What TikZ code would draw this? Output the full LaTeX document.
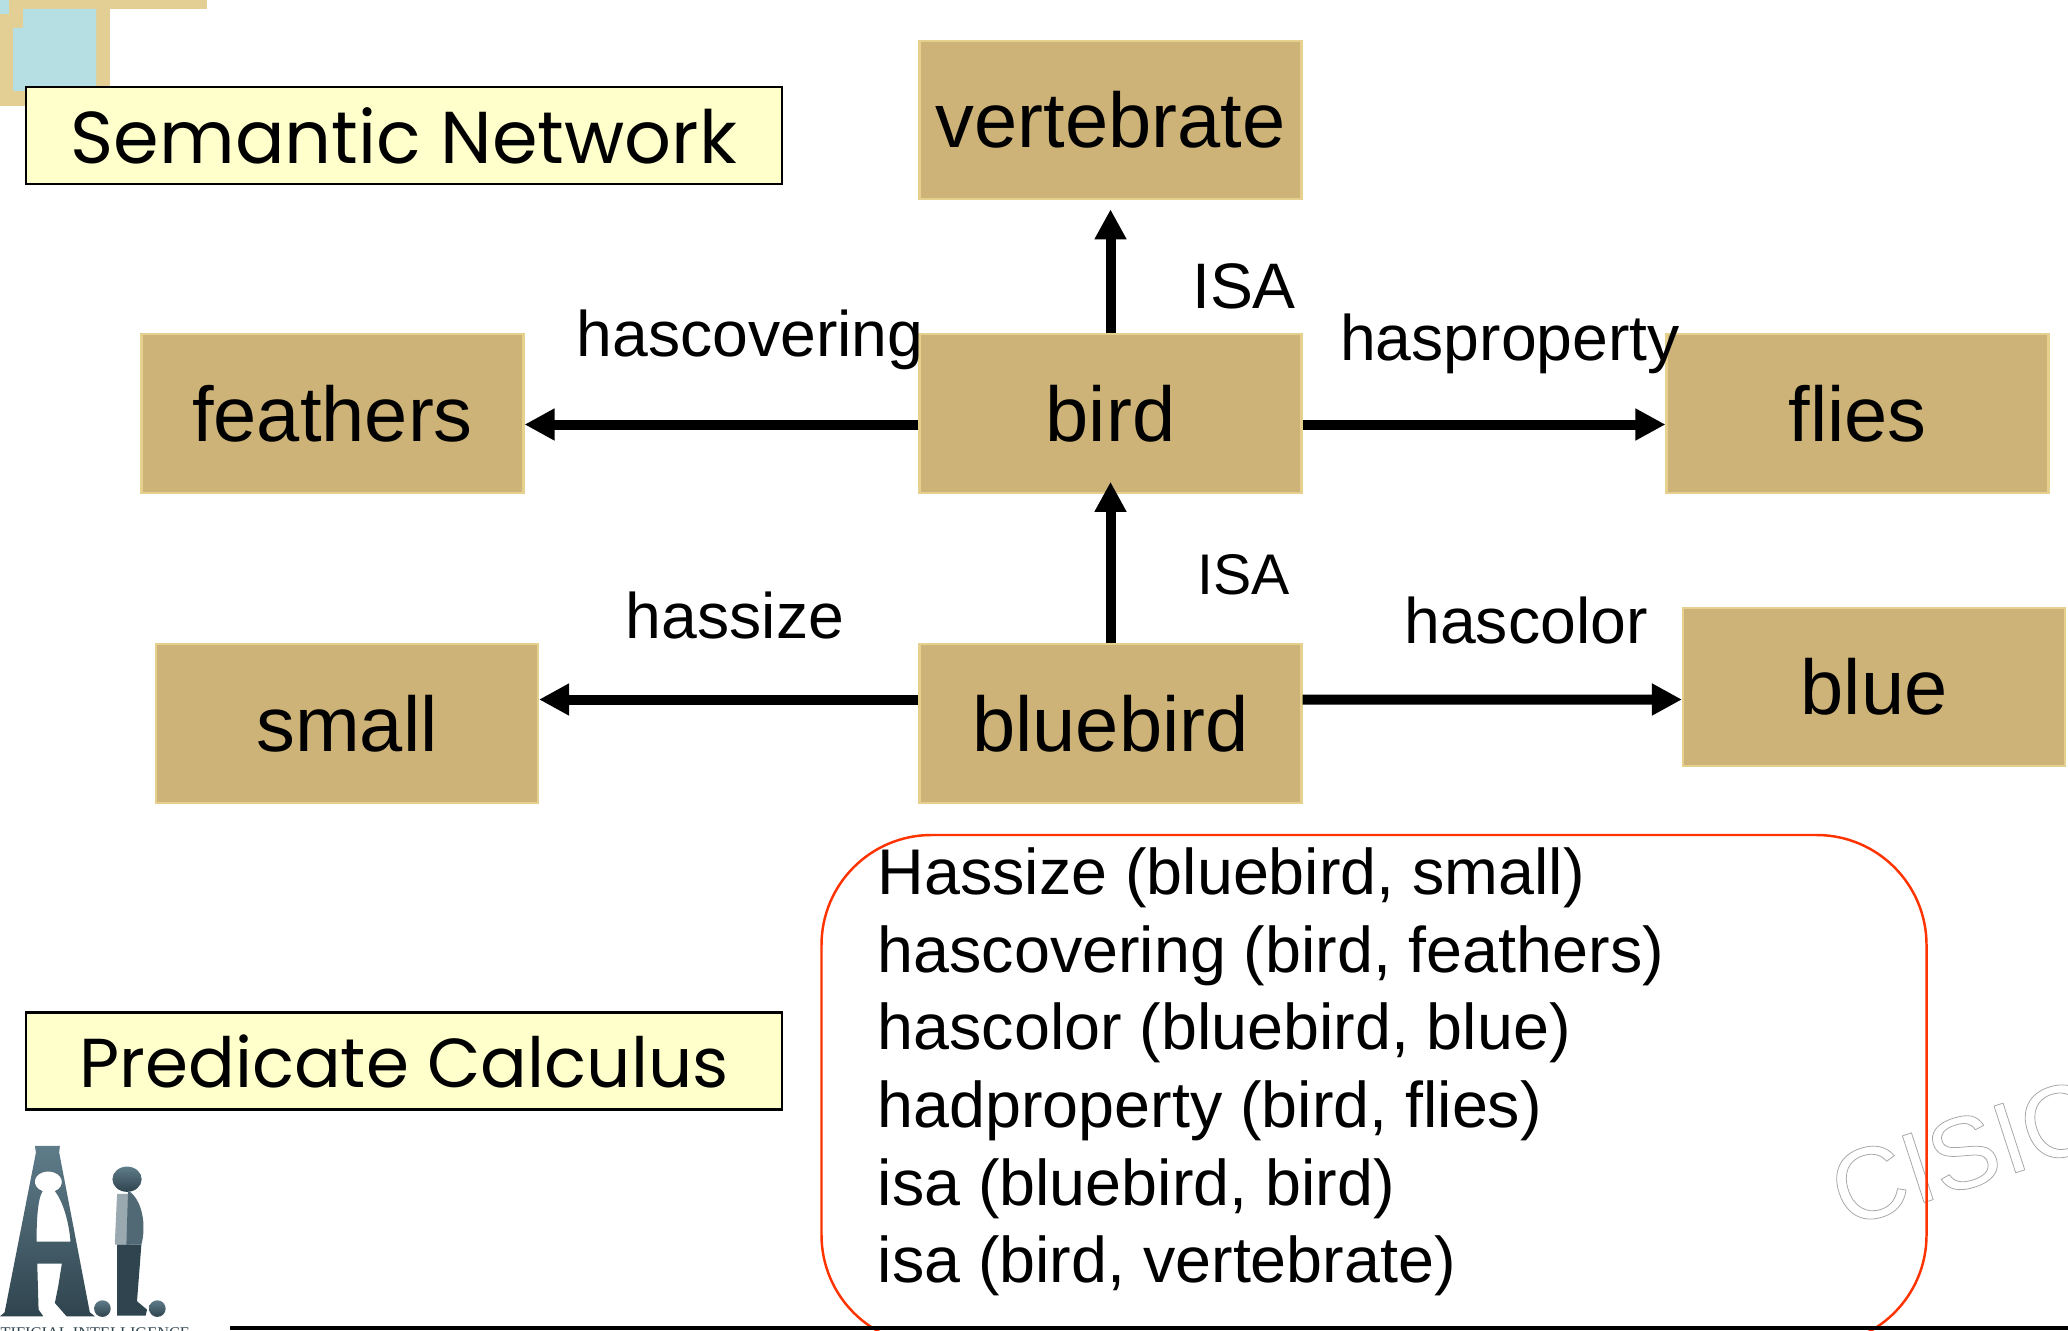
\documentclass[tikz,border=0pt]{standalone}
\usepackage{fontspec}
\usepackage{xcolor}
\usetikzlibrary{arrows.meta,positioning,calc}
\setmainfont{Liberation Sans}
\newfontfamily\titlefont{Poppins}
\definecolor{boxtan}{HTML}{CDB377}
\definecolor{boxedge}{HTML}{E6D08E}
\definecolor{titleyellow}{HTML}{FFFFCC}
\definecolor{cornerblue}{HTML}{B5DFE3}
\definecolor{cornertan}{HTML}{E3CF93}
\definecolor{listred}{HTML}{FF3300}
\definecolor{logoslate}{HTML}{5F7C8A}
\definecolor{logodark}{HTML}{2F444E}
\definecolor{logolight}{HTML}{9AA9B0}
\newcommand{\outlinetext}[1]{\special{pdf: code 1 Tr 0.22 w}#1\special{pdf: code 0 Tr}}
\begin{document}
\begin{tikzpicture}[
  every node/.style={inner sep=0pt},
  concept/.style={draw=boxedge,fill=boxtan,minimum width=3.82cm,minimum height=1.585cm,line width=0.6pt,font=\fontsize{22.1}{24}\selectfont},
  titlebox/.style={draw=black,fill=titleyellow,minimum width=7.56cm,minimum height=0.97cm,line width=0.6pt,font=\titlefont\fontsize{20.9}{22}\selectfont},
  relation/.style={font=\fontsize{18.3}{20}\selectfont},
  flow/.style={-{Triangle[length=0.30cm,width=0.30cm]},draw=black,line width=0.10cm},
  logoshade/.style={top color=logoslate,bottom color=logodark,draw=none}
]
  \clip (0,0) rectangle (20.68,13.30);
  % corner ornament
  \fill[cornertan] (0.09,13.30) rectangle (2.07,13.21);
  \fill[cornertan] (0,13.16) rectangle (1.10,12.24);
  \fill[cornertan] (0.09,13.30) rectangle (1.10,13.16);
  \fill[cornerblue] (0.13,13.02) -| (0.23,13.21) -| (0.96,12.39) -| cycle;
  \fill[cornerblue] (0,13.30) rectangle (0.09,13.16);
  \node[titlebox] (semantic) at (4.04,11.945) {Semantic Network};
  \node[titlebox,font=\titlefont\fontsize{19.7}{22}\selectfont] (predicate) at (4.04,2.69) {Predicate Calculus};
  % network
  \node[concept] (vertebrate) at (11.105,12.10) {vertebrate};
  \node[concept] (bird) at (11.105,9.165) {bird};
  \node[concept] (feathers) at (3.325,9.165) {feathers};
  \node[concept] (flies) at (18.575,9.165) {flies};
  \node[concept] (bluebird) at (11.105,6.065) {bluebird};
  \node[concept] (small) at (3.47,6.065) {small};
  \node[concept] (blue) at (18.74,6.43) {blue};
  \draw[flow,shorten >=0.09cm] (bird.north) -- (vertebrate.south);
  \draw[flow,shorten >=-0.12cm] (bluebird.north) -- (bird.south);
  \draw[flow] ([yshift=-0.11cm]bird.west) -- ([yshift=-0.11cm]feathers.east);
  \draw[flow] ([yshift=-0.11cm]bird.east) -- ([yshift=-0.11cm]flies.west);
  \draw[flow] ([yshift=0.24cm]bluebird.west) -- ([yshift=0.24cm]small.east);
  \draw[flow] ([yshift=0.24cm]bluebird.east) -- ([yshift=-0.125cm]blue.west);
  \node[relation] (isatop) at (12.44,10.44) {ISA};
  \node[relation,font=\fontsize{16.3}{18}\selectfont] (isalow) at (12.44,7.55) {ISA};
  \node[relation] (hascovering) at (7.50,9.90) {hascovering};
  \node[relation] (hasproperty) at (15.10,9.86) {hasproperty};
  \node[relation] (hassize) at (7.35,7.14) {hassize};
  \node[relation] (hascolor) at (15.26,7.09) {hascolor};
  % watermark
  \node[rotate=18,anchor=south west,text=gray!70,font=\fontsize{29}{30}\selectfont] (cisic) at (18.45,1.00) {\outlinetext{CISIC}};
  % predicates
  \node[draw=listred,line width=0.7pt,rounded corners=1.10cm,minimum width=11.05cm,minimum height=5.10cm] (listbox) at (13.74,2.40) {};
  \node[anchor=north west,align=left,font=\fontsize{18.38}{22.1}\selectfont] (predicates) at (8.77,4.83) {Hassize (bluebird, small)\\hascovering (bird, feathers)\\hascolor (bluebird, blue)\\hadproperty (bird, flies)\\isa (bluebird, bird)\\isa (bird, vertebrate)};
  % logo
  \begin{scope}[shift={(0,2.10)},x=0.00333cm,y=-0.00333cm]
    \path[logoshade,even odd rule] (105,78) -- (180,78) -- (178,98) -- (270,578) -- (285,590) -- (200,590) -- (165,550) -- (175,500) -- (186,432) -- (112,432) -- (116,570) -- (130,590) -- (0,590) -- (14,578) -- (108,98) -- cycle
      (145,155) .. controls (100,155) and (90,200) .. (128,214) .. controls (112,240) and (110,310) .. (110,366) -- (212,366) .. controls (208,310) and (190,245) .. (165,214) .. controls (200,200) and (190,155) .. (145,155) -- cycle;
    \path[logoshade] (382,178) ellipse (44 and 38);
    \fill[logolight] (352,222) -- (388,222) -- (388,375) -- (345,375) -- cycle;
    \fill[logoslate!85!black] (385,212) .. controls (430,240) and (440,320) .. (425,375) -- (380,375) -- cycle;
    \fill[logodark] (352,375) -- (425,375) -- (412,545) -- (442,570) -- (438,588) -- (352,588) -- cycle;
    \path[logoshade] (308,567) circle (25);
    \path[logoshade] (473,567) circle (25);
  \end{scope}
  \node[anchor=north west,text=logodark,font=\fontsize{4.65}{5}\selectfont] (logotext) at (0,0.03) {\fontspec{Liberation Serif}TIFICIAL INTELLIGENCE};
  \coordinate (rulestart) at (2.30,0.02);
  \coordinate (ruleend) at (20.68,0.02);
  \draw[line width=0.04cm] (rulestart) -- (ruleend);
\end{tikzpicture}
\end{document}
